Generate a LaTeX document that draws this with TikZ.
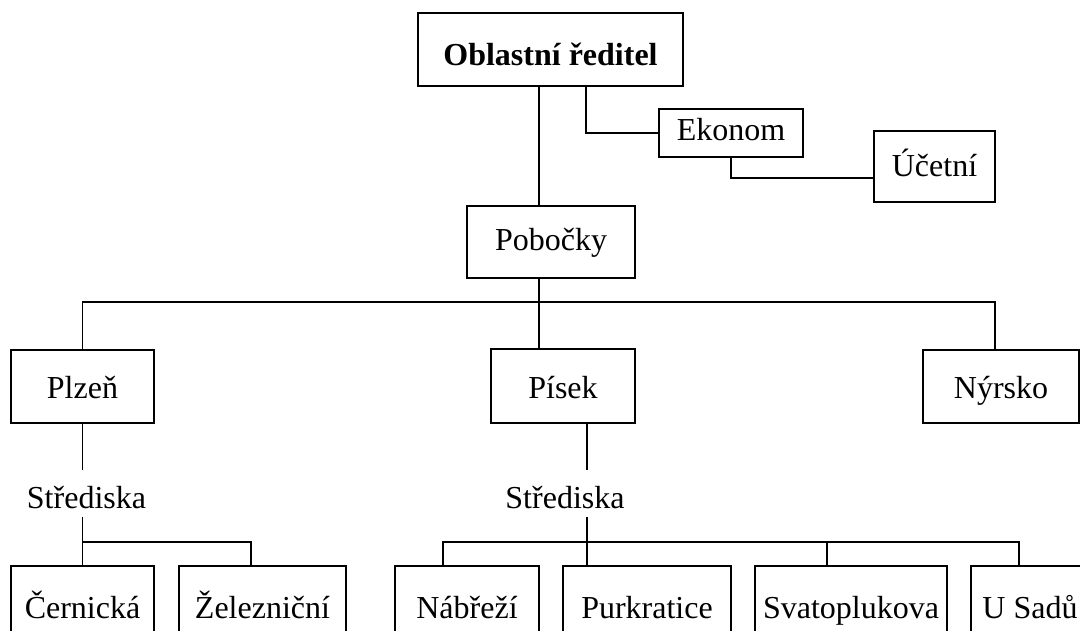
\documentclass[tikz,border=0pt]{standalone}
\usepackage{fontspec}
\setmainfont{Liberation Serif}
\begin{document}
\begin{tikzpicture}[x=1pt,y=-1pt,line width=1.8pt,
  txt/.style={font=\fontsize{32}{38}\selectfont},
  box/.style={txt,draw,inner sep=0pt,text depth=0pt},
  lab/.style={txt,inner sep=0pt,anchor=base}]
\useasboundingbox (0,0) rectangle (1080,631);
\clip (0,0) rectangle (1080,631);
% helper positions
\coordinate (vA) at (539,0);
\coordinate (vB) at (586,0);
\coordinate (vC) at (731,0);
\coordinate (vN) at (995,0);
\coordinate (vP) at (587,0);
\coordinate (vZ) at (251,0);
\coordinate (vNa) at (443,0);
\coordinate (vSv) at (827,0);
\coordinate (vU) at (1019,0);
\coordinate (hU) at (0,178);
\coordinate (bar) at (0,302);
\coordinate (yS1) at (0,470);
\coordinate (yS2) at (0,517);
\coordinate (yB) at (0,542);
% boxes
\node[box,minimum width=265pt,minimum height=73pt,text height=33pt,font=\fontsize{32}{38}\selectfont\bfseries] (top) at (550.5,49.5) {Oblastní ředitel};
\node[box,minimum width=144pt,minimum height=48pt,text height=16pt] (eko) at (731,133) {Ekonom};
\node[box,minimum width=121pt,minimum height=71pt,text height=21pt] (uce) at (934.5,166.5) {Účetní};
\node[box,minimum width=168pt,minimum height=72pt,text height=18pt] (pob) at (551,242) {Pobočky};
\node[box,minimum width=143pt,minimum height=73pt,text height=25pt] (pl) at (82.5,386.5) {Plzeň};
\node[box,minimum width=144pt,minimum height=74pt,text height=24pt] (pis) at (563,386) {Písek};
\node[box,minimum width=156pt,minimum height=73pt,text height=25pt] (ny) at (1001,386.5) {Nýrsko};
\node[lab] (s1) at (86.5,508) {Střediska};
\node[lab] (s2) at (565,508) {Střediska};
\node[box,minimum width=143pt,minimum height=90pt,text height=14pt] (cer) at (82.5,611) {Černická};
\node[box,minimum width=167pt,minimum height=90pt,text height=14pt] (zel) at (262.5,611) {Železniční};
\node[box,minimum width=144pt,minimum height=90pt,text height=14pt] (nab) at (467,611) {Nábřeží};
\node[box,minimum width=168pt,minimum height=90pt,text height=14pt] (pur) at (647,611) {Purkratice};
\node[box,minimum width=192pt,minimum height=90pt,text height=14pt] (sva) at (851,611) {Svatoplukova};
\node[box,minimum width=118pt,minimum height=90pt,text height=14pt] (usa) at (1030,611) {U Sadů};
% connectors
\draw (top.south -| vA) -- (pob.north -| vA);
\draw (top.south -| vB) |- (eko.west);
\draw (eko.south -| vC) |- (uce.west |- hU);
\draw (pob.south -| vA) -- (pis.north -| vA);
\draw (pl.north) |- (vN |- bar) -- (ny.north -| vN);
\draw (pl.south) -- (pl.south |- yS1);
\draw (pl.south |- yS2) -- (cer.north);
\draw (cer.north |- yB) -| (zel.north -| vZ);
\draw (pis.south -| vP) -- (vP |- yS1);
\draw (vP |- yS2) -- (pur.north -| vP);
\draw (nab.north -| vNa) |- (vU |- yB) -- (usa.north -| vU);
\draw (sva.north -| vSv) -- (vSv |- yB);
\end{tikzpicture}
\end{document}
